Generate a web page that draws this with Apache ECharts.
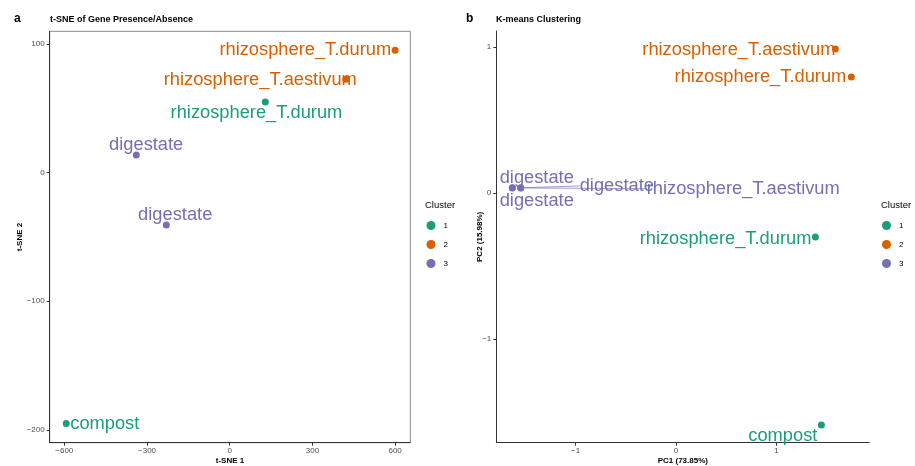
<!DOCTYPE html>
<html><head><meta charset="utf-8">
<script src="https://cdn.jsdelivr.net/npm/echarts@6/dist/echarts.min.js"></script>
<style>html,body{margin:0;padding:0;background:#fff}#c{width:915px;height:466px}</style>
</head><body><div id="c"></div>
<script>
const FONT = '"Liberation Sans", Arial, Helvetica, sans-serif';

// ---- data ----
const clusterNames = ['1', '2', '3'];
const clusterColors = ['#1B9E77', '#D95F02', '#7570B3'];

// panel a: t-SNE
const tsneLabels = ['rhizosphere_T.durum', 'rhizosphere_T.aestivum', 'rhizosphere_T.durum', 'digestate', 'digestate', 'compost'];
const tsneX = [600, 421, 129, -339, -230, -593];
const tsneY = [95.3, 72.8, 55, 13.8, -40.6, -195];
const tsneCluster = [2, 2, 1, 3, 3, 1];
const tsneTicksX = [-600, -300, 0, 300, 600];
const tsneTicksY = [-200, -100, 0, 100];

// panel b: PCA / K-means
const pcaLabels = ['rhizosphere_T.aestivum', 'rhizosphere_T.durum', 'digestate', 'digestate', 'digestate', 'rhizosphere_T.aestivum', 'rhizosphere_T.durum', 'compost'];
const pcaX = [1.587, 1.746, -1.63, -1.63, -1.547, -1.547, 1.388, 1.448];
const pcaY = [0.986, 0.795, 0.037, 0.035, 0.036, 0.035, -0.301, -1.589];
const pcaCluster = [2, 2, 3, 3, 3, 3, 1, 1];
const pcaTicksX = [-1, 0, 1];
const pcaTicksY = [-1, 0, 1];

// ---- label placement (style: align, dx px, dy px, draw segment) ----
const tsnePlace = [['right', -4, 0, false], ['right', 11, 1, false], ['right', 77, 11, false], ['right', 47, -10, false], ['right', 46, -10, false], ['left', 4, 1, false]];
const pcaPlace = [['right', 0, 1, false], ['right', -5, 0, false], ['left', -12.7, -9.5, false], ['left', -12.7, 13.5, false], ['left', 59, -1.8, true], ['left', 126, 0.8, true], ['right', -4, 1.5, false], ['right', -4, 10.5, false]];

function buildSeries(xs, ys, names, clusters, place, axisIdx) {
  return clusterNames.map((cn, ci) => {
    const idx = [];
    clusters.forEach((c, i) => { if (c === ci + 1) idx.push(i); });
    const color = clusterColors[ci];
    return {
      type: 'scatter', name: cn, xAxisIndex: axisIdx, yAxisIndex: axisIdx,
      symbolSize: 7, itemStyle: { color: color, opacity: 1 },
      emphasis: { disabled: true },
      silent: true, animation: false,
      label: { show: true, formatter: '{b}', color: color, fontSize: 18.3, fontFamily: FONT, position: 'inside' },
      labelLine: { show: false },
      labelLayout: function (p) {
        const pl = place[idx[p.dataIndex]];
        const cx = p.rect.x + p.rect.width / 2, cy = p.rect.y + p.rect.height / 2;
        return { x: cx + pl[1], y: cy + pl[2], align: pl[0], verticalAlign: 'middle' };
      },
      data: idx.map(i => ({
        name: names[i], value: [xs[i], ys[i]],
        labelLine: { show: place[i][3], lineStyle: { color: color, width: 0.7, opacity: 1 } }
      })),
      z: 3
    };
  });
}

const tickLabel = { color: '#4d4d4d', fontSize: 8, fontFamily: FONT };
const axisName = { color: '#000', fontSize: 8, fontWeight: 'bold', fontFamily: FONT };
const axisLine = { show: true, onZero: false, lineStyle: { color: '#333', width: 1 } };

function xAx(gi, min, max, ticks, name) {
  return {
    type: 'value', gridIndex: gi, min: min, max: max, name: name, nameLocation: 'middle', nameGap: 14,
    nameMoveOverlap: false,
    nameTextStyle: axisName, axisLine: axisLine,
    axisTick: { show: true, length: 3, lineStyle: { color: '#333' }, customValues: ticks },
    axisLabel: Object.assign({ margin: 4, customValues: ticks, formatter: v => String(v).replace('-', '\u2212') }, tickLabel),
    splitLine: { show: false }
  };
}
function yAx(gi, min, max, ticks, name, gap) {
  return {
    type: 'value', gridIndex: gi, min: min, max: max, name: name, nameLocation: 'middle', nameGap: gap,
    nameMoveOverlap: false,
    nameTextStyle: axisName, axisLine: axisLine,
    axisTick: { show: true, length: 3, lineStyle: { color: '#333' }, customValues: ticks },
    axisLabel: Object.assign({ margin: 5, customValues: ticks, formatter: v => String(v).replace('-', '\u2212') }, tickLabel),
    splitLine: { show: false }
  };
}

function legend(left) {
  return {
    orient: 'vertical', left: left, top: 221, padding: 0, itemWidth: 9, itemHeight: 10, itemGap: 10,
    icon: 'circle', data: clusterNames, selectedMode: false,
    textStyle: { fontSize: 8, color: '#000', fontFamily: FONT, padding: [0, 0, 0, 3] }
  };
}

const chart = echarts.init(document.getElementById('c'), null, { renderer: 'canvas' });
chart.setOption({
  backgroundColor: '#fff',
  animation: false,
  textStyle: { fontFamily: FONT },
  grid: [
    { left: 49.7, top: 31.3, width: 360.6, height: 411.4, show: true, borderColor: '#8a8a8a', borderWidth: 1, backgroundColor: 'transparent', containLabel: false, outerBoundsMode: 'none' },
    { left: 496.3, top: 31, width: 373, height: 411.7, containLabel: false, outerBoundsMode: 'none' }
  ],
  xAxis: [xAx(0, -653, 655, tsneTicksX, 't-SNE 1'), xAx(1, -1.79, 1.925, pcaTicksX, 'PC1 (73.85%)')],
  yAxis: [yAx(0, -210, 110, tsneTicksY, 't-SNE 2', 26), yAx(1, -1.71, 1.11, pcaTicksY, 'PC2 (15.98%)', 13)],
  legend: [legend(426.5), legend(882)],
  graphic: [
    { type: 'text', left: 14, top: 13, style: { text: 'a', fontSize: 12, fontWeight: 'bold', fill: '#000', fontFamily: FONT } },
    { type: 'text', left: 50, top: 15, style: { text: 't-SNE of Gene Presence/Absence', fontSize: 9, fontWeight: 'bold', fill: '#000', fontFamily: FONT } },
    { type: 'text', left: 466, top: 13, style: { text: 'b', fontSize: 12, fontWeight: 'bold', fill: '#000', fontFamily: FONT } },
    { type: 'text', left: 496, top: 15, style: { text: 'K-means Clustering', fontSize: 9, fontWeight: 'bold', fill: '#000', fontFamily: FONT } },
    { type: 'text', left: 425, top: 200, style: { text: 'Cluster', fontSize: 9.5, fill: '#000', fontFamily: FONT } },
    { type: 'text', left: 881, top: 200, style: { text: 'Cluster', fontSize: 9.5, fill: '#000', fontFamily: FONT } }
  ],
  series: buildSeries(tsneX, tsneY, tsneLabels, tsneCluster, tsnePlace, 0)
    .concat(buildSeries(pcaX, pcaY, pcaLabels, pcaCluster, pcaPlace, 1))
});
</script>
</body></html>
